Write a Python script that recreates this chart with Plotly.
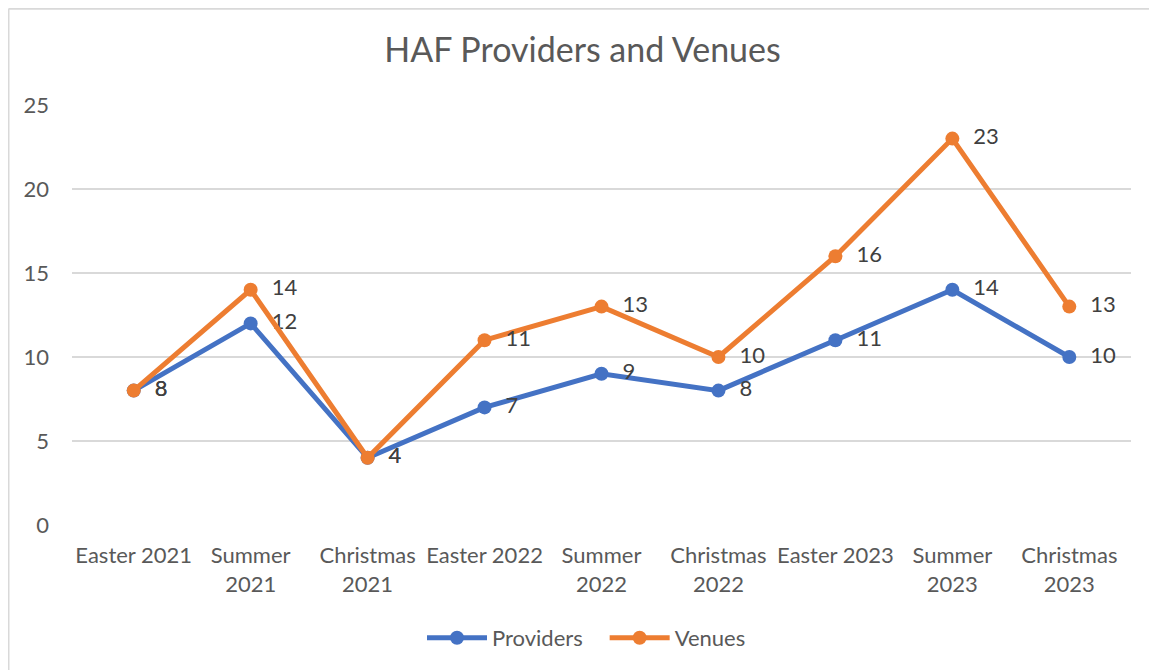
import plotly.graph_objects as go

categories = ["Easter 2021", "Summer<br>2021", "Christmas<br>2021", "Easter 2022", "Summer<br>2022",
              "Christmas<br>2022", "Easter 2023", "Summer<br>2023", "Christmas<br>2023"]
providers = [8, 12, 4, 7, 9, 8, 11, 14, 10]
venues = [8, 14, 4, 11, 13, 10, 16, 23, 13]
y_ticks = [0, 5, 10, 15, 20, 25]

FONT = "Lato, Carlito, Calibri, sans-serif"
OFF = 8  # page body margin
PAGE_W, PAGE_H = 1157, 670
W, H = PAGE_W - OFF, PAGE_H - OFF
L, T = 72 - OFF, 105 - OFF
R, B = PAGE_W - 1131, PAGE_H - 526

fig = go.Figure()
for name, vals, col in [("Providers", providers, "#4472C4"), ("Venues", venues, "#ED7D31")]:
    fig.add_trace(go.Scatter(
        x=categories, y=vals, name=name + "\u00a0\u00a0\u00a0", mode="lines+markers+text",
        line=dict(color=col, width=5),
        marker=dict(color=col, size=14),
        text=[f"  {v}" for v in vals], textposition="middle right",
        textfont=dict(family=FONT, size=22, color="#404040"),
        cliponaxis=False,
    ))

pw = W - L - R
ph = H - T - B
def px_x(p):
    return (p - OFF - L) / pw
def px_y(p):
    return (H - B - (p - OFF)) / ph

fig.update_layout(
    width=W, height=H,
    margin=dict(l=L, r=R, t=T, b=B),
    paper_bgcolor="white", plot_bgcolor="white",
    font=dict(family=FONT, size=22, color="#595959"),
    title=dict(text="HAF Providers and Venues", x=0.5, xanchor="center",
               y=1 - (50 - OFF) / H, yanchor="middle", yref="container",
               font=dict(family=FONT, size=34, color="#595959")),
    xaxis=dict(type="category", showgrid=False, showline=False, zeroline=False,
               ticks="", tickfont=dict(size=22, color="#595959"), ticklabelstandoff=15),
    yaxis=dict(range=[0, 25], tickvals=y_ticks, showgrid=True, gridcolor="#D9D9D9",
               gridwidth=1.5, zeroline=False, showline=False, ticks="",
               tickfont=dict(size=22, color="#595959"), ticklabelstandoff=22),
    legend=dict(orientation="h", x=px_x(595), xanchor="center", y=px_y(638), yanchor="middle",
                font=dict(size=22, color="#595959"), itemwidth=60),
    showlegend=True,
    shapes=[
        dict(type="line", xref="paper", yref="paper", x0=px_x(8.5), x1=px_x(8.5),
             y0=px_y(8.5), y1=px_y(690), line=dict(color="#D9D9D9", width=2)),
        dict(type="line", xref="paper", yref="paper", x0=px_x(8.5), x1=px_x(1180),
             y0=px_y(8.5), y1=px_y(8.5), line=dict(color="#D9D9D9", width=2)),
    ],
)
fig.write_html("out.html")
